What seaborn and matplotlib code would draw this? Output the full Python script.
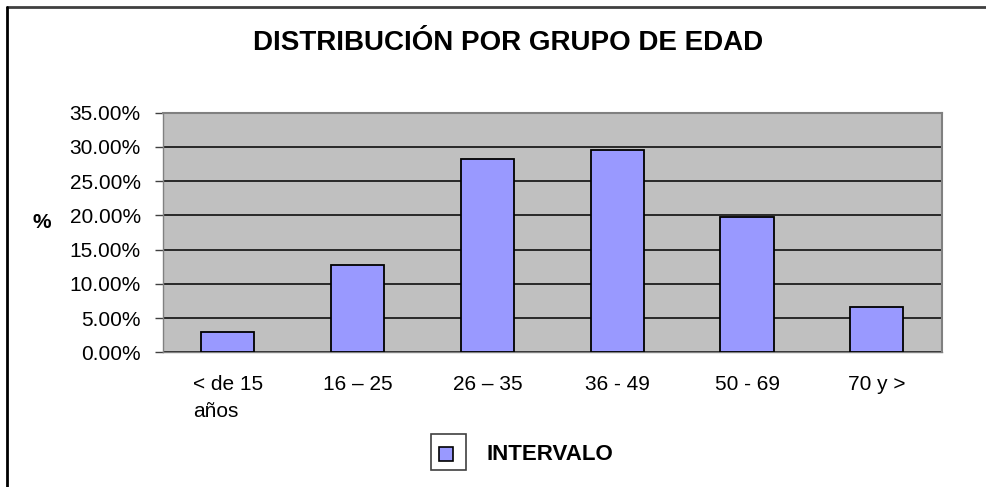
import matplotlib
matplotlib.use("Agg")
import matplotlib.pyplot as plt
import seaborn as sns
import pandas as pd
from matplotlib.ticker import FuncFormatter, MultipleLocator
from matplotlib.patches import Rectangle
from matplotlib.lines import Line2D

categories = ["< de 15\naños", "16 – 25", "26 – 35", "36 - 49", "50 - 69", "70 y >"]
values = [2.9, 12.7, 28.3, 29.5, 19.7, 6.65]
series_name = "INTERVALO"
title = "DISTRIBUCIÓN POR GRUPO DE EDAD"
ylabel = "%"

sns.set_theme(style="white")
plt.rcParams["font.family"] = ["Liberation Sans", "DejaVu Sans"]
plt.rcParams["text.color"] = "black"
plt.rcParams["xtick.color"] = "black"
plt.rcParams["ytick.color"] = "black"

df = pd.DataFrame({"cat": categories, "val": values})

W, H = 987, 487
fig = plt.figure(figsize=(W / 100, H / 100), dpi=100)
ax = fig.add_axes([163 / W, 1 - 352.3 / H, (941.7 - 163) / W, (352.3 - 112.7) / H])

bar_color = "#9999FF"
sns.barplot(data=df, x="cat", y="val", color=bar_color, edgecolor="black",
            linewidth=1.3, width=0.41, saturation=1, ax=ax, zorder=3)

ax.set_facecolor("#C0C0C0")
ax.set_ylim(0, 35)
ax.set_xlim(-0.5, len(categories) - 0.5)
ax.yaxis.set_major_locator(MultipleLocator(5))
ax.yaxis.set_major_formatter(FuncFormatter(lambda v, p: f"{v:.2f}%"))
ax.grid(axis="y", color="black", linewidth=1.1, zorder=1)
ax.set_axisbelow(True)

for s in ["top", "right"]:
    ax.spines[s].set_color("#808080")
    ax.spines[s].set_linewidth(1.5)
for s in ["left", "bottom"]:
    ax.spines[s].set_color("#808080")
    ax.spines[s].set_linewidth(1.0)

ax.set_xticks(range(len(categories)))
ax.set_xticklabels(categories, fontsize=15, multialignment="left",
                   color="black", linespacing=1.55)
ax.tick_params(axis="x", length=0, pad=16)
ax.set_xticks([i - 0.5 for i in range(len(categories) + 1)], minor=True)
ax.tick_params(axis="x", which="minor", length=6, width=1, color="#404040", direction="out")
ax.tick_params(axis="y", length=6, width=1, color="#404040", direction="out",
               labelsize=15, labelcolor="black", pad=10, left=True)
ax.set_xlabel("")
ax.set_ylabel("")

fig.text(42 / W, 1 - 222 / H, ylabel, fontsize=15, fontweight="bold",
         ha="center", va="center", color="black")
fig.text(508 / W, 1 - 43 / H, title, fontsize=20, fontweight="bold",
         ha="center", va="center", color="black")

# legend (Excel-style: frame around the key only)
fig.add_artist(Rectangle((431 / W, 1 - 470 / H), 35 / W, 36 / H,
                         transform=fig.transFigure, fill=False,
                         edgecolor="#404040", linewidth=1.2))
fig.add_artist(Rectangle((439 / W, 1 - 461 / H), 14 / W, 14 / H,
                         transform=fig.transFigure, facecolor=bar_color,
                         edgecolor="black", linewidth=1.2))
fig.text(487 / W, 1 - 454 / H, series_name, fontsize=16, fontweight="bold",
         ha="left", va="center", color="black")

# outer border (top and left visible)
fig.add_artist(Line2D([6.5 / W, 1], [1 - 6.5 / H, 1 - 6.5 / H],
                      transform=fig.transFigure, color="#404040", linewidth=2))
fig.add_artist(Line2D([6.5 / W, 6.5 / W], [0, 1 - 6.5 / H],
                      transform=fig.transFigure, color="black", linewidth=2))

fig.savefig("out.png", dpi=100, facecolor="white")
